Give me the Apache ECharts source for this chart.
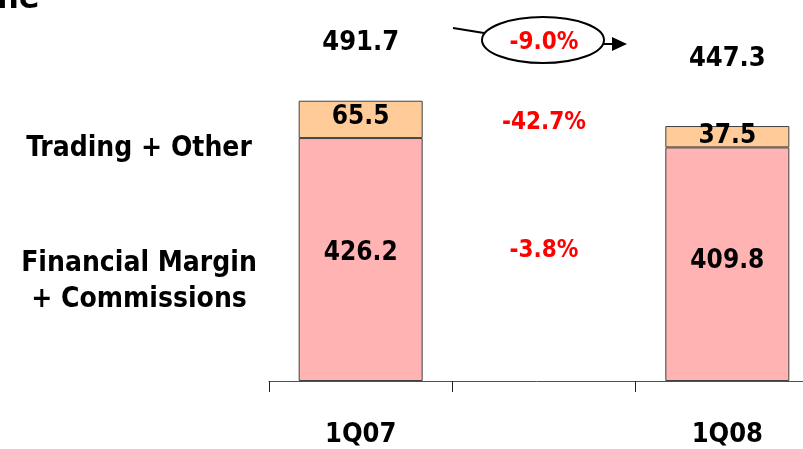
<!DOCTYPE html>
<html>
<head>
<meta charset="utf-8">
<script src="https://cdn.jsdelivr.net/npm/echarts@6/dist/echarts.min.js"></script>
<style>
  html, body { margin: 0; padding: 0; background: #fff; }
  #chart { width: 803px; height: 449px; }
</style>
</head>
<body>
<div id="chart"></div>
<script>
// Quarters on the x axis; the empty middle slot holds the change labels
const categories = ['1Q07', '', '1Q08'];
// Financial Margin + Commissions
const marginCommissions = [426.2, null, 409.8];
// Trading + Other
const tradingOther = [65.5, null, 37.5];

const FONT = '"DejaVu Sans Condensed", "DejaVu Sans", sans-serif';

const totals = marginCommissions.map((v, i) => v == null ? null : +(v + tradingOther[i]).toFixed(1));
const pct = (a, b) => ((b / a - 1) * 100).toFixed(1) + '%';
const chgTotal = pct(totals[0], totals[2]);
const chgTrading = pct(tradingOther[0], tradingOther[2]);
const chgMargin = pct(marginCommissions[0], marginCommissions[2]);

const chart = echarts.init(document.getElementById('chart'));

const valueLabel = {
  show: true,
  position: 'inside',
  color: '#000',
  fontFamily: FONT,
  fontWeight: 'bold',
  fontSize: 26
};

// per-bar vertical nudges for the value labels
const withOffsets = (arr, offs) => arr.map((v, i) => v == null ? null : { value: v, label: { offset: [0, offs[i]] } });

chart.setOption({
  animation: false,
  // the plot runs past the right edge of the canvas
  grid: { left: 269, right: -16, top: 39, bottom: 68, outerBoundsMode: 'none', containLabel: false },
  xAxis: {
    type: 'category',
    data: categories,
    axisLine: { lineStyle: { color: '#505050', width: 1 } },
    axisTick: { show: true, length: 11, inside: false, lineStyle: { color: '#202020' } },
    axisLabel: {
      color: '#000',
      fontFamily: FONT,
      fontWeight: 'bold',
      fontSize: 27,
      margin: 40
    }
  },
  yAxis: {
    type: 'value',
    min: 0,
    max: 600,
    show: false,
    splitLine: { show: false }
  },
  series: [
    {
      name: 'Financial Margin + Commissions',
      type: 'bar',
      stack: 'total',
      barWidth: 124,
      data: withOffsets(marginCommissions, [-6, 0, -3]),
      itemStyle: { color: '#FFB3B3', borderColor: '#404040', borderWidth: 1 },
      label: valueLabel
    },
    {
      name: 'Trading + Other',
      type: 'bar',
      stack: 'total',
      barWidth: 124,
      data: withOffsets(tradingOther, [-2, 0, 0]),
      itemStyle: { color: '#FFCC99', borderColor: '#404040', borderWidth: 1 },
      label: valueLabel
    },
    {
      name: 'Total',
      type: 'scatter',
      symbolSize: 0,
      silent: true,
      itemStyle: { opacity: 1 },
      data: totals.map((v, i) => v == null ? null : {
        value: v,
        label: { offset: [0, i === 0 ? -39 : -49] }
      }),
      label: {
        show: true,
        position: 'top',
        color: '#000',
        fontFamily: FONT,
        fontWeight: 'bold',
        fontSize: 27,
        formatter: p => p.value.toFixed(1)
      }
    }
  ],
  graphic: [
    // cut-off heading at the top-left
    { type: 'text', left: -3, top: -18,
      style: { text: 'ne', fill: '#000', font: 'bold 34px ' + FONT } },
    // row captions
    { type: 'text', x: 139, y: 149,
      style: { text: 'Trading + Other', fill: '#000', font: 'bold 28px ' + FONT, align: 'center', verticalAlign: 'middle' } },
    { type: 'text', x: 139, y: 264,
      style: { text: 'Financial Margin', fill: '#000', font: 'bold 28px ' + FONT, align: 'center', verticalAlign: 'middle' } },
    { type: 'text', x: 139, y: 300,
      style: { text: '+ Commissions', fill: '#000', font: 'bold 28px ' + FONT, align: 'center', verticalAlign: 'middle' } },
    // change figures
    { type: 'text', x: 544, y: 123,
      style: { text: chgTrading, fill: '#FF0000', font: 'bold 24px ' + FONT, align: 'center', verticalAlign: 'middle' } },
    { type: 'text', x: 544, y: 251,
      style: { text: chgMargin, fill: '#FF0000', font: 'bold 24px ' + FONT, align: 'center', verticalAlign: 'middle' } },
    // total change in an ellipse with connector and arrow
    { type: 'line', shape: { x1: 453, y1: 28, x2: 484, y2: 33 },
      style: { stroke: '#000', lineWidth: 2 } },
    { type: 'ellipse', shape: { cx: 543, cy: 40, rx: 61, ry: 23 },
      style: { fill: '#fff', stroke: '#000', lineWidth: 2 } },
    { type: 'text', x: 544, y: 43,
      style: { text: chgTotal, fill: '#FF0000', font: 'bold 24px ' + FONT, align: 'center', verticalAlign: 'middle' } },
    { type: 'line', shape: { x1: 604, y1: 44, x2: 614, y2: 44 },
      style: { stroke: '#000', lineWidth: 2 } },
    { type: 'polygon', shape: { points: [[612, 37], [627, 44], [612, 51]] },
      style: { fill: '#000' } }
  ]
});
</script>
</body>
</html>
